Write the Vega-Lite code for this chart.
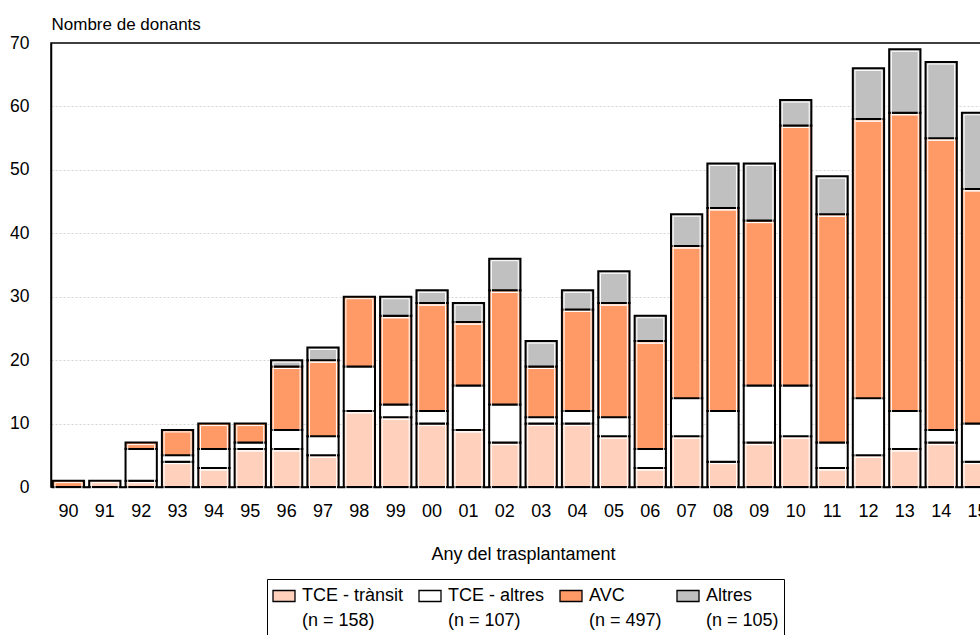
{
  "$schema": "https://vega.github.io/schema/vega-lite/v6.json",
  "width": 944,
  "height": 444,
  "autosize": {"type": "none"},
  "padding": {"left": 51, "top": 43, "right": 0, "bottom": 148},
  "background": "white",
  "config": {
    "font": "Liberation Sans",
    "view": {"stroke": "black", "strokeWidth": 1.5},
    "axis": {
      "domainColor": "black",
      "domainWidth": 1.5,
      "labelColor": "black",
      "titleColor": "black",
      "titleFontWeight": "normal",
      "ticks": false,
      "tickSize": 0
    }
  },
  "data": {
    "values": [
      {"any": "90", "c1": 0, "c2": 0, "c3": 1, "c4": 0},
      {"any": "91", "c1": 1, "c2": 0, "c3": 0, "c4": 0},
      {"any": "92", "c1": 1, "c2": 5, "c3": 1, "c4": 0},
      {"any": "93", "c1": 4, "c2": 1, "c3": 4, "c4": 0},
      {"any": "94", "c1": 3, "c2": 3, "c3": 4, "c4": 0},
      {"any": "95", "c1": 6, "c2": 1, "c3": 3, "c4": 0},
      {"any": "96", "c1": 6, "c2": 3, "c3": 10, "c4": 1},
      {"any": "97", "c1": 5, "c2": 3, "c3": 12, "c4": 2},
      {"any": "98", "c1": 12, "c2": 7, "c3": 11, "c4": 0},
      {"any": "99", "c1": 11, "c2": 2, "c3": 14, "c4": 3},
      {"any": "00", "c1": 10, "c2": 2, "c3": 17, "c4": 2},
      {"any": "01", "c1": 9, "c2": 7, "c3": 10, "c4": 3},
      {"any": "02", "c1": 7, "c2": 6, "c3": 18, "c4": 5},
      {"any": "03", "c1": 10, "c2": 1, "c3": 8, "c4": 4},
      {"any": "04", "c1": 10, "c2": 2, "c3": 16, "c4": 3},
      {"any": "05", "c1": 8, "c2": 3, "c3": 18, "c4": 5},
      {"any": "06", "c1": 3, "c2": 3, "c3": 17, "c4": 4},
      {"any": "07", "c1": 8, "c2": 6, "c3": 24, "c4": 5},
      {"any": "08", "c1": 4, "c2": 8, "c3": 32, "c4": 7},
      {"any": "09", "c1": 7, "c2": 9, "c3": 26, "c4": 9},
      {"any": "10", "c1": 8, "c2": 8, "c3": 41, "c4": 4},
      {"any": "11", "c1": 3, "c2": 4, "c3": 36, "c4": 6},
      {"any": "12", "c1": 5, "c2": 9, "c3": 44, "c4": 8},
      {"any": "13", "c1": 6, "c2": 6, "c3": 47, "c4": 10},
      {"any": "14", "c1": 7, "c2": 2, "c3": 46, "c4": 12},
      {"any": "15", "c1": 4, "c2": 6, "c3": 37, "c4": 12}
    ]
  },
  "transform": [
    {"fold": ["c1", "c2", "c3", "c4"], "as": ["causa", "n"]},
    {"filter": "datum.n > 0"}
  ],
  "encoding": {
    "x": {
      "field": "any",
      "type": "ordinal",
      "sort": null,
      "scale": {"paddingInner": 0.14, "paddingOuter": 0.05},
      "axis": {
        "title": "Any del trasplantament",
        "labelAngle": 0,
        "labelFontSize": 18,
        "labelBaseline": "middle",
        "labelPadding": 24,
        "titleFontSize": 18,
        "titleBaseline": "middle",
        "titleY": 67
      }
    },
    "y": {
      "field": "n",
      "type": "quantitative",
      "stack": "zero",
      "scale": {"domain": [0, 70], "nice": false},
      "axis": {
        "title": "Nombre de donants",
        "values": [0, 10, 20, 30, 40, 50, 60, 70],
        "labelFontSize": 17.5,
        "labelPadding": 22,
        "grid": true,
        "gridColor": "#d4d4d4",
        "gridDash": [2, 2],
        "gridWidth": 1,
        "gridOpacity": {"condition": {"test": "datum.value == 70 || datum.value == 0", "value": 0}, "value": 1},
        "titleFontSize": 17,
        "titleAngle": 0,
        "titleAlign": "left",
        "titleBaseline": "middle",
        "titleX": 0,
        "titleY": -19
      }
    },
    "order": {"field": "causa", "sort": "ascending"}
  },
  "layer": [
    {
      "mark": {"type": "bar", "stroke": "black", "strokeWidth": 2},
      "encoding": {
        "color": {
          "field": "causa",
          "type": "nominal",
          "scale": {
            "domain": ["c1", "c2", "c3", "c4"],
            "range": ["#FFD0BC", "#FFFFFF", "#FF9966", "#C0C0C0"]
          },
          "legend": {
            "title": null,
            "orient": "none",
            "legendX": 216,
            "legendY": 536,
            "direction": "horizontal",
            "columns": 4,
            "columnPadding": 12,
            "padding": 5,
            "strokeColor": "black",
            "symbolType": "M-1,-0.5H1V0.5H-1Z",
            "symbolSize": 484,
            "symbolStrokeColor": "black",
            "symbolStrokeWidth": 1.3,
            "symbolOpacity": 1,
            "labelFontSize": 18,
            "labelColor": "black",
            "labelOffset": 6,
            "labelBaseline": "middle",
            "labelLimit": 200,
            "labelExpr": "datum.value == 'c1' ? ['TCE - trànsit', '\u00a0(n = 158)'] : datum.value == 'c2' ? ['TCE - altres', '(n = 107)'] : datum.value == 'c3' ? ['AVC', '(n = 497)'] : ['Altres', '(n = 105)']",
            "encode": {"labels": {"update": {"lineHeight": {"value": 25}}}}
          }
        }
      }
    },
    {
      "mark": {
        "type": "bar",
        "fill": null,
        "fillOpacity": 0,
        "stroke": "white",
        "strokeWidth": 1,
        "yOffset": 2,
        "y2Offset": -2,
        "width": {"band": 0.86}
      },
      "encoding": {"detail": {"field": "causa"}}
    }
  ]
}
